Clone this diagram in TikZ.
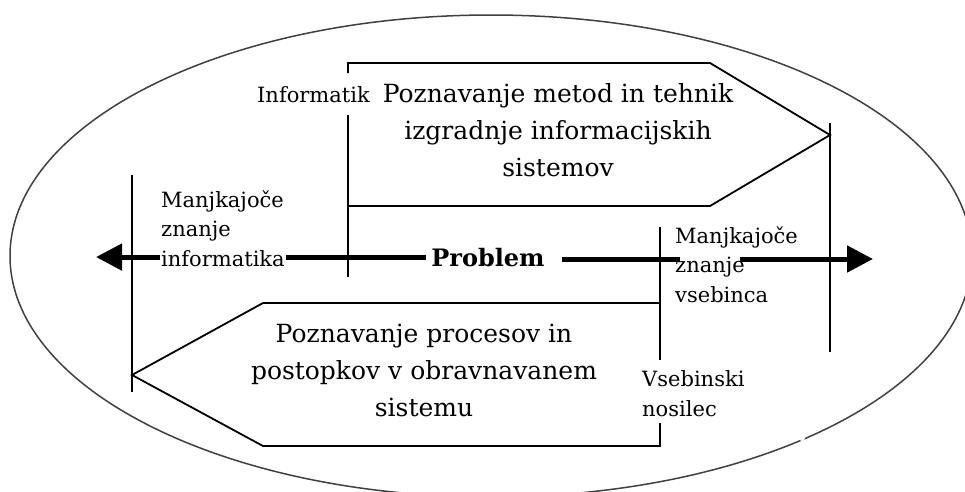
\documentclass[tikz,border=0pt]{standalone}
\usepackage{fontspec}
\setmainfont{DejaVu Serif}
\usetikzlibrary{arrows.meta}
\begin{document}
\begin{tikzpicture}[x=1pt,y=-1pt,
  frame/.style={line width=1.8pt,line cap=butt,line join=miter},
  oval/.style={line width=1.5pt,draw=black!75},
  fat/.style={line width=5pt},
  fatarrow/.style={fat,-{Triangle[length=26pt,width=26pt]}},
  bodytext/.style={font=\fontsize{25}{37}\selectfont,align=center,anchor=base,inner sep=0pt},
  sidelabel/.style={font=\fontsize{21}{29.5}\selectfont,align=left,anchor=base west,inner sep=0pt},
]
\useasboundingbox (0,0) rectangle (965,491);
\fill[white] (0,0) rectangle (965,491);

% outer oval, with its small break at the lower right
\begin{scope}
  \clip (0,0) rectangle (965,491);
  \draw[oval] (491,256) ellipse [x radius=481pt, y radius=241pt];
\end{scope}
\fill[white] (802,438) circle [radius=3pt];

% upper pentagon (informatik's knowledge)
\draw[frame] (348,73) -- (348,63) -- (710,63) -- (830,135) -- (710,206) -- (348,206);
\draw[frame] (348,115) -- (348,277);
\draw[frame] (830,123) -- (830,352);

% lower pentagon (domain expert's knowledge)
\draw[frame] (660,227) -- (660,360);
\draw[frame] (660,303) -- (263,303) -- (132,375) -- (263,446) -- (660,446) -- (660,423);
\draw[frame] (132,175) -- (132,392);

% texts inside the pentagons (anchored at the baseline of the last line)
\node[bodytext] (knowit) at (558,176) {Poznavanje metod in tehnik\\izgradnje informacijskih\\sistemov};
\node[bodytext] (knowdom) at (424,416) {Poznavanje procesov in\\postopkov v obravnavanem\\sistemu};

\node[sidelabel] (informatik) at (257,102) {Informatik};
\node[sidelabel] (carrier) at (642,416) {Vsebinski\\nosilec};

% the problem and its two arrows
\node[font=\bfseries\fontsize{24}{28}\selectfont,inner sep=0pt,anchor=base] (prob) at (488,266) {Problem};

\coordinate (tipL) at (101,256);
\coordinate (gapA) at (680,259);
\coordinate (gapB) at (740,259);
\coordinate (tipR) at (873,259);

\draw[fatarrow] ([xshift=-5pt]prob.west) -- ([xshift=-5pt]prob.west -| tipL);
\node[sidelabel,fill=white,inner sep=1pt] (missit) at (160,266) {Manjkajoče\\znanje\\informatika};

\draw[fat] ([xshift=17pt]prob.east |- gapA) -- (gapA);
\draw[fatarrow] (gapB) -- (tipR);
\node[sidelabel] (missdom) at (675,302) {Manjkajoče\\znanje\\vsebinca};
\end{tikzpicture}
\end{document}
